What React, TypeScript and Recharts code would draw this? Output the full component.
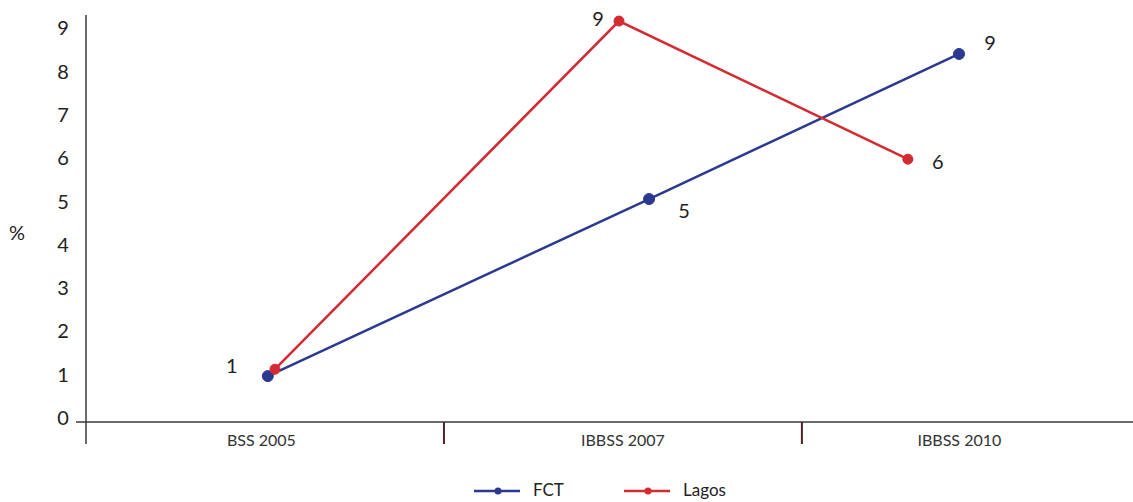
import * as React from 'react';
import { LineChart, Line, XAxis, YAxis, Label } from 'recharts';

// Survey rounds (x positions are in "round" units: 0-1 is the first round, etc.)
const categories = ['BSS 2005', 'IBBSS 2007', 'IBBSS 2010'];
const categoryTicks = [0.49, 1.5, 2.44];
const boundaryTicks = [0, 1, 2];
const yTicks = [0, 1, 2, 3, 4, 5, 6, 7, 8, 9];

const fctX = [0.508, 1.573, 2.439];
const fctValues = [1.06, 5.15, 8.5];
const lagosX = [0.528, 1.489, 2.296];
const lagosValues = [1.22, 9.26, 6.07];

const FONT = 'Lato, "Open Sans", sans-serif';
const BLUE = '#2B3990';
const RED = '#D42A32';
const AXIS = '#3a3a3a';

const fctData = fctX.map((x, i) => ({ x, v: fctValues[i] }));
const lagosData = lagosX.map((x, i) => ({ x, v: lagosValues[i] }));

// label offsets (dx, dy) from each point, null = no label
const fctLabelPos: ([number, number] | null)[] = [[-36, -11], [35, 11], [31, -12]];
const lagosLabelPos: ([number, number] | null)[] = [null, [-21, -3], [30, 2]];

const makeLabel = (pos: ([number, number] | null)[]) => (props: any) => {
  const { x, y, index, value } = props;
  const p = pos[index];
  if (!p) return null;
  return (
    <text
      key={`lbl-${index}`}
      x={x + p[0]}
      y={y + p[1]}
      textAnchor="middle"
      dominantBaseline="central"
      fontFamily={FONT}
      fontSize={20}
      fill="#222"
    >
      {Math.round(Number(value))}
    </text>
  );
};

function XTick(props: any) {
  const { x, y, payload } = props;
  const v = payload.value;
  if (boundaryTicks.includes(v)) {
    return <line x1={x} y1={y} x2={x} y2={y + 22} stroke={v === 0 ? AXIS : '#4a2424'} strokeWidth={v === 0 ? 1.5 : 2} />;
  }
  const idx = categoryTicks.indexOf(v);
  return (
    <text x={x} y={y + 17} textAnchor="middle" dominantBaseline="central" fontFamily={FONT} fontSize={16} fill="#333">
      {categories[idx]}
    </text>
  );
}

function YTick(props: any) {
  const { x, y, payload } = props;
  return (
    <g>
      {payload.value === 0 && <line x1={x - 10} y1={y} x2={x} y2={y} stroke={AXIS} strokeWidth={1.5} />}
      <text x={x - 23} y={y - 5} textAnchor="middle" dominantBaseline="central" fontFamily={FONT} fontSize={20} fill="#222">
        {payload.value}
      </text>
    </g>
  );
}

function LegendItem({ left, color, text }: { left: number; color: string; text: string }) {
  return (
    <>
      <svg style={{ position: 'absolute', left, top: 486 }} width={46} height={10}>
        <line x1={0} y1={5} x2={46} y2={5} stroke={color} strokeWidth={2.5} />
        <circle cx={24} cy={5} r={3.5} fill={color} />
      </svg>
      <div
        style={{
          position: 'absolute',
          left: left + 59,
          top: 479,
          fontFamily: FONT,
          fontSize: 17,
          color: '#222',
          lineHeight: '22px',
        }}
      >
        {text}
      </div>
    </>
  );
}

export default function App() {
  return (
    <div style={{ position: 'absolute', left: 0, top: 0, width: 1133, height: 502, background: '#fff' }}>
      <LineChart width={1133} height={502} margin={{ top: 15, right: 0, left: 0, bottom: 0 }}>
        <XAxis
          dataKey="x"
          type="number"
          domain={[0, 2.925]}
          allowDataOverflow
          ticks={[...boundaryTicks, ...categoryTicks]}
          interval={0}
          height={80}
          tickSize={0}
          tickMargin={0}
          tickLine={false}
          axisLine={{ stroke: AXIS, strokeWidth: 1.5 }}
          tick={<XTick />}
        />
        <YAxis
          type="number"
          domain={[0, 9.4]}
          ticks={yTicks}
          interval={0}
          width={86}
          tickSize={0}
          tickMargin={0}
          tickLine={false}
          axisLine={{ stroke: AXIS, strokeWidth: 1.5 }}
          tick={<YTick />}
        >
          <Label value="%" position="insideLeft" offset={9} dy={14} fontFamily={FONT} fontSize={20} fill="#222" />
        </YAxis>
        <Line
          data={fctData}
          dataKey="v"
          name="FCT"
          stroke={BLUE}
          strokeWidth={2.5}
          dot={{ r: 5.5, fill: BLUE, stroke: BLUE, strokeWidth: 1 }}
          isAnimationActive={false}
          label={makeLabel(fctLabelPos)}
        />
        <Line
          data={lagosData}
          dataKey="v"
          name="Lagos"
          stroke={RED}
          strokeWidth={2.5}
          dot={{ r: 5, fill: RED, stroke: RED, strokeWidth: 1 }}
          isAnimationActive={false}
          label={makeLabel(lagosLabelPos)}
        />
      </LineChart>
      <LegendItem left={474} color={BLUE} text="FCT" />
      <LegendItem left={624} color={RED} text="Lagos" />
    </div>
  );
}
